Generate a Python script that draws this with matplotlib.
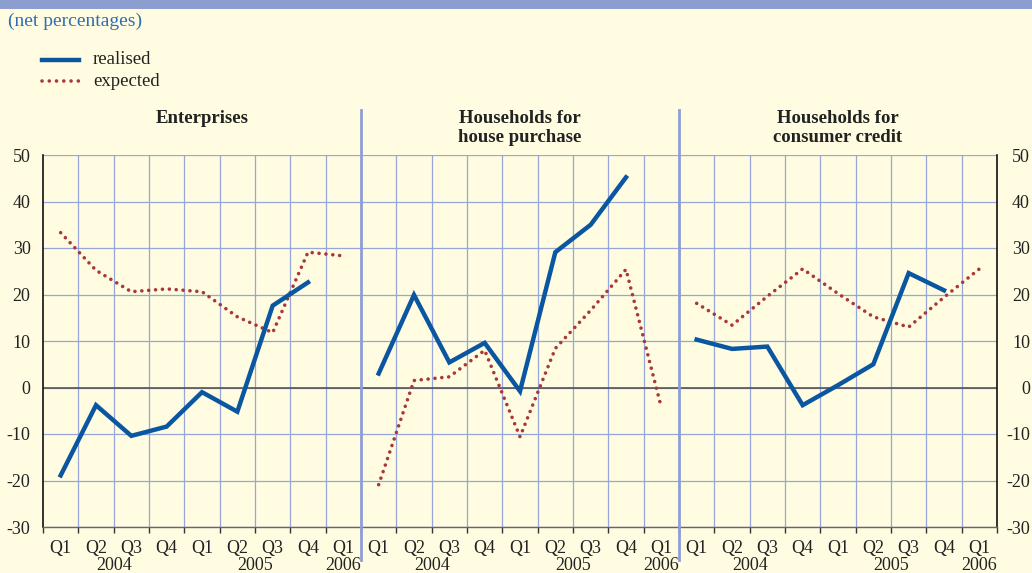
import numpy as np
import matplotlib
matplotlib.use('Agg')
import matplotlib.pyplot as plt
import matplotlib.transforms as mtransforms
from matplotlib.lines import Line2D
from matplotlib.patches import Rectangle

# data (net percentages)
panel_titles = ['Enterprises', 'Households for\nhouse purchase', 'Households for\nconsumer credit']
quarter_labels = ['Q1', 'Q2', 'Q3', 'Q4', 'Q1', 'Q2', 'Q3', 'Q4', 'Q1']
year_labels = ['2004', '2005', '2006']

ent_realised = [-18.9, -3.8, -10.4, -8.4, -1.0, -5.2, 17.6, 22.6]
ent_expected = [33.3, 25.2, 20.6, 21.2, 20.6, 15.2, 11.8, 29.1, 28.3]
house_realised = [3.0, 19.9, 5.4, 9.6, -0.8, 29.1, 35.0, 45.2]
house_expected = [-20.9, 1.5, 2.3, 8.0, -10.6, 8.4, 16.6, 25.4, -4.3]
cons_realised = [10.3, 8.3, 8.8, -3.8, 0.5, 5.0, 24.6, 20.9]
cons_expected = [18.1, 13.4, 19.6, 25.5, 20.2, 15.2, 13.0, 19.4, 25.5]

realised = [ent_realised, house_realised, cons_realised]
expected = [ent_expected, house_expected, cons_expected]

BG = '#FFFCE1'
BLUE = '#0A56A0'
RED = '#A8383A'
GRID = '#97A6DA'
TXT = '#222222'

plt.rcParams['font.family'] = ['Liberation Serif', 'DejaVu Serif']
plt.rcParams['font.size'] = 13
plt.rcParams['axes.unicode_minus'] = False

fig = plt.figure(figsize=(10.32, 5.73), dpi=100, facecolor=BG)
W, H = 1032.0, 573.0

# top band
fig.patches.append(Rectangle((0, 1 - 9 / H), 1, 9 / H, transform=fig.transFigure,
                             facecolor='#8C9ED0', edgecolor='none'))
fig.text(8 / W, 1 - 21 / H, '(net percentages)', color='#2F6EB3', fontsize=14,
         va='center', ha='left')

# legend by hand
fig.lines.append(Line2D([42 / W, 79 / W], [1 - 60 / H, 1 - 60 / H], transform=fig.transFigure,
                        color=BLUE, lw=3.2))
fig.lines.append(Line2D([42 / W, 79 / W], [1 - 81 / H, 1 - 81 / H], transform=fig.transFigure,
                        color=RED, lw=2.6, linestyle=(0, (0.01, 2.0)), dash_capstyle='round'))
fig.text(93 / W, 1 - 60 / H, 'realised', va='center', ha='left', color=TXT, fontsize=13.5)
fig.text(93 / W, 1 - 81 / H, 'expected', va='center', ha='left', color=TXT, fontsize=13.5)

ax = fig.add_axes([43 / W, 46 / H, 954 / W, 372 / H])
ax.set_facecolor(BG)
ax.set_xlim(0, 27)
ax.set_ylim(-30, 50)

for y in range(-30, 51, 10):
    ax.axhline(y, color=GRID, lw=0.9, zorder=1)
for x in range(1, 27):
    ax.axvline(x, color=GRID, lw=0.9, zorder=1)
ax.axhline(0, color='#555555', lw=1.2, zorder=2)

nq = len(quarter_labels)
for p in range(3):
    xr = np.arange(len(realised[p])) + p * nq + 0.5
    xe = np.arange(len(expected[p])) + p * nq + 0.5
    ax.plot(xe, expected[p], color=RED, lw=2.6, linestyle=(0, (0.01, 1.9)),
            dash_capstyle='round', zorder=3)
    ax.plot(xr, realised[p], color=BLUE, lw=3.2, solid_joinstyle='miter', zorder=4)

yticks = list(range(-30, 51, 10))
ax.set_yticks(yticks)
ax.tick_params(axis='y', length=0, pad=9, labelsize=13, labelcolor=TXT)

# right-hand labels, right aligned at the figure edge like the original
rtrans = mtransforms.blended_transform_factory(fig.transFigure, ax.transData)
for v in yticks:
    ax.text(1030 / W, v, str(v), transform=rtrans, ha='right', va='center_baseline',
            color=TXT, fontsize=13, clip_on=False)

ax.set_xticks(range(0, 28))
ax.tick_params(axis='x', direction='out', length=4, width=1, color='#333333',
               labelbottom=False)

for s in ['left', 'right']:
    ax.spines[s].set_color('#111111')
    ax.spines[s].set_linewidth(1.2)
ax.spines['top'].set_visible(False)
ax.spines['bottom'].set_color('#666666')
ax.spines['bottom'].set_linewidth(1)

trans = mtransforms.blended_transform_factory(ax.transData, fig.transFigure)
year_offsets = [2, 6, 8.5]
for p in range(3):
    base = p * nq
    for i, q in enumerate(quarter_labels):
        fig.text(base + i + 0.5, 1 - 549 / H, q, transform=trans, ha='center', va='center',
                 color=TXT, fontsize=13)
    for yl, off in zip(year_labels, year_offsets):
        fig.text(base + off, 1 - 566 / H, yl, transform=trans, ha='center', va='center',
                 color=TXT, fontsize=13)
    fig.text(base + nq / 2, 1 - 110 / H, panel_titles[p], transform=trans, ha='center',
             va='top', fontweight='bold', color=TXT, fontsize=13.5, linespacing=1.15)

# panel separators
for x in [nq, 2 * nq]:
    fig.lines.append(Line2D([x, x], [1 - 110 / H, 1 - 560 / H], transform=trans,
                            color='#8C9FD6', lw=2))

fig.savefig('out.png', dpi=100, facecolor=BG)
